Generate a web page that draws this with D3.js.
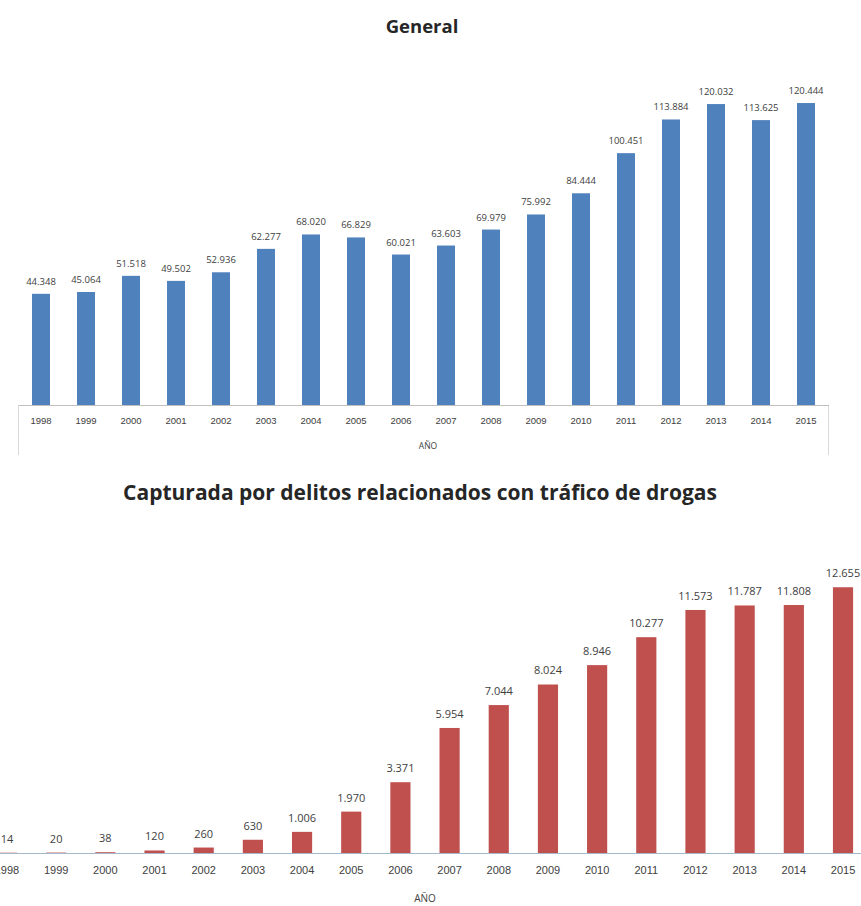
<!DOCTYPE html>
<html lang="en">
<head>
  <meta charset="UTF-8" />
  <title>Capturas por año</title>
  <script src="https://d3js.org/d3.v7.min.js"></script>
  <style>
    body {
      margin: 0;
      background-color: #fff;
      font-family: "Open Sans", "Liberation Sans", sans-serif;
    }

    .title {
      font-weight: bold;
      fill: #262626;
    }

    .value-lbl {
      fill: #404040;
    }

    .tick-lbl {
      fill: #404040;
    }
  </style>
</head>
<body>
  <svg id="chart" width="861" height="906"></svg>

  <script>
    const years = ["1998", "1999", "2000", "2001", "2002", "2003", "2004", "2005", "2006",
      "2007", "2008", "2009", "2010", "2011", "2012", "2013", "2014", "2015"];
    const general = [44348, 45064, 51518, 49502, 52936, 62277, 68020, 66829, 60021,
      63603, 69979, 75992, 84444, 100451, 113884, 120032, 113625, 120444];
    const drogas = [14, 20, 38, 120, 260, 630, 1006, 1970, 3371,
      5954, 7044, 8024, 8946, 10277, 11573, 11787, 11808, 12655];

    const svg = d3.select("#chart");
    const fmt = d3.formatLocale({ decimal: ",", thousands: ".", grouping: [3] }).format(",");

    function drawChart(opts) {
      const x = d3.scaleBand()
        .domain(years)
        .range([opts.left, opts.right])
        .paddingInner(opts.pad)
        .paddingOuter(opts.pad / 2);

      const y = d3.scaleLinear()
        .domain([0, opts.max])
        .range([opts.base, opts.top]);

      const g = svg.append("g");

      // title
      g.append("text")
        .attr("class", "title")
        .attr("x", opts.titleX)
        .attr("y", opts.titleY)
        .attr("text-anchor", "middle")
        .style("font-size", opts.titleSize + "px")
        .text(opts.title);

      // frame lines at sides (below axis)
      if (opts.frame) {
        [opts.left, opts.right].forEach((fx) => {
          g.append("line")
            .attr("x1", fx).attr("x2", fx)
            .attr("y1", opts.base).attr("y2", opts.base + 50)
            .attr("stroke", "#d9d9d9");
        });
      }

      g.selectAll("rect")
        .data(opts.values)
        .join("rect")
        .attr("x", (d, i) => x(years[i]))
        .attr("y", (d) => y(d))
        .attr("width", x.bandwidth())
        .attr("height", (d) => opts.base - y(d))
        .attr("fill", opts.color);

      g.selectAll("text.value-lbl")
        .data(opts.values)
        .join("text")
        .attr("class", "value-lbl")
        .attr("x", (d, i) => x(years[i]) + x.bandwidth() / 2)
        .attr("y", (d) => y(d) - opts.lblGap)
        .attr("text-anchor", "middle")
        .style("font-size", opts.lblSize + "px")
        .text((d) => fmt(d));

      // x axis
      const axis = d3.axisBottom(x).tickSize(0).tickPadding(opts.tickPad);
      const ax = g.append("g")
        .attr("transform", `translate(0,${opts.base})`)
        .call(axis);
      ax.select(".domain").attr("stroke", opts.axisColor);
      ax.selectAll(".tick text")
        .attr("class", "tick-lbl")
        .style("font-size", opts.tickSize + "px")
        .style("font-family", "inherit");

      g.append("text")
        .attr("class", "tick-lbl")
        .attr("x", opts.axisLblX)
        .attr("y", opts.axisLblY)
        .attr("text-anchor", "middle")
        .style("font-size", (opts.tickSize - 1) + "px")
        .text("AÑO");
    }

    drawChart({
      title: "General", titleX: 422, titleY: 33, titleSize: 18.5,
      values: general, color: "#4f81bd", max: 140000,
      left: 18.5, right: 828.5, pad: 0.6, base: 405, top: 54,
      lblSize: 9.5, lblGap: 9, tickSize: 9.5, tickPad: 12,
      axisColor: "#bfbfbf", axisLblX: 428, axisLblY: 449, frame: true
    });

    drawChart({
      title: "Capturada por delitos relacionados con tráfico de drogas",
      titleX: 420, titleY: 500, titleSize: 21,
      values: drogas, color: "#c0504d", max: 14000,
      left: -17.6, right: 867.6, pad: 0.59, base: 853, top: 559,
      lblSize: 11, lblGap: 10, tickSize: 11, tickPad: 13,
      axisColor: "#a5b8c9", axisLblX: 425, axisLblY: 902, frame: false
    });
  </script>
</body>
</html>
